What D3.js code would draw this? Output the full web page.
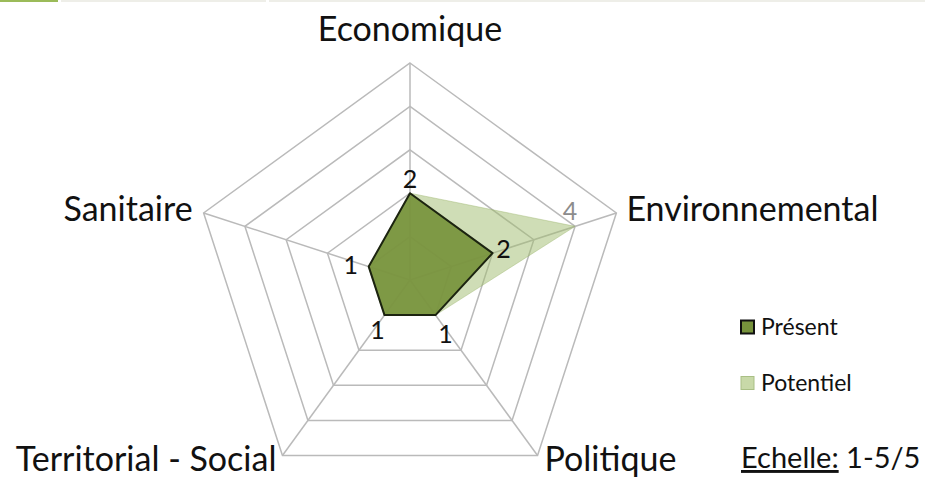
<!DOCTYPE html>
<html><head><meta charset="utf-8">
<script src="https://cdn.jsdelivr.net/npm/d3@7/dist/d3.min.js"></script>
<style>body{margin:0;background:#fff}svg{display:block}text{font-family:Lato,"Open Sans",sans-serif;fill:#111}</style>
</head><body><svg id="c" width="925" height="477"></svg>
<script>
const axes = ["Economique","Environnemental","Politique","Territorial - Social","Sanitaire"];
const present = [2,2,1,1,1];
const potentiel = [2,4,1,1,1];
const levels = [1,2,3,4,5];
const seriesNames = ["Présent","Potentiel"];
const scaleNote = ["Echelle:", " 1-5/5"];

const svg = d3.select("#c");
const cx = 410, cy = 280, R = 217;
const r = d3.scaleLinear().domain([0,5]).range([0,R]);
const ang = d3.scaleLinear().domain([0, axes.length]).range([0, 2*Math.PI]);
const pt = (i, v) => [cx + r(v)*Math.sin(ang(i)), cy - r(v)*Math.cos(ang(i))];

// top decorative bars
svg.append("rect").attr("x",0).attr("y",0).attr("width",58).attr("height",2).attr("fill","#9BBB59");
svg.append("rect").attr("x",61).attr("y",0).attr("width",205).attr("height",2).attr("fill","#EEEEE8");
svg.append("rect").attr("x",269).attr("y",0).attr("width",656).attr("height",2).attr("fill","#EEEEE8");

const g = svg.append("g").attr("transform",`translate(${cx},${cy})`);
const radial = d3.lineRadial().angle((d,i)=>ang(i)).radius(d=>r(d)).curve(d3.curveLinearClosed);

// grid
levels.forEach(l=>{
  g.append("path").attr("d", radial(axes.map(()=>l))).attr("fill","none").attr("stroke","#BABABA").attr("stroke-width",1.5);
});
axes.forEach((a,i)=>{
  const [x,y] = pt(i,5);
  g.append("line").attr("x1",0).attr("y1",0).attr("x2",x-cx).attr("y2",y-cy).attr("stroke","#BABABA").attr("stroke-width",1.5);
});

// series
g.append("path").attr("d", radial(potentiel)).attr("fill","rgb(160,188,110)").attr("fill-opacity",0.5)
  .attr("stroke","rgb(150,178,100)").attr("stroke-opacity",0.4).attr("stroke-width",1);
g.append("path").attr("d", radial(present)).attr("fill","#77933C").attr("fill-opacity",0.92)
  .attr("stroke","#1C2410").attr("stroke-width",2).attr("stroke-linejoin","round");

// value labels
const presOff = [[0,-5,"middle"],[11,5,"middle"],[10,28,"middle"],[-7,24,"middle"],[-18,7,"middle"]];
present.forEach((v,i)=>{
  const [x,y] = pt(i,v);
  svg.append("text").attr("x",x+presOff[i][0]).attr("y",y+presOff[i][1]).attr("text-anchor",presOff[i][2])
    .attr("font-size",25).text(v);
});
potentiel.forEach((v,i)=>{
  if (v === present[i]) return;
  const [x,y] = pt(i,v);
  svg.append("text").attr("x",x-5).attr("y",y-6).attr("text-anchor","middle")
    .attr("font-size",25).style("fill","#8C8C8C").text(v);
});

// axis labels
const labOff = [[0,-22,"middle"],[10,8,"start"],[7,15,"start"],[-6,15,"end"],[-11,8,"end"]];
axes.forEach((a,i)=>{
  const [x,y] = pt(i,5);
  svg.append("text").attr("x",x+labOff[i][0]).attr("y",y+labOff[i][1]).attr("text-anchor",labOff[i][2])
    .attr("font-size",34).text(a);
});

// legend
const legFill = [["#77933C","#111",2],["#C8D9A8","#A9BF85",1]];
seriesNames.forEach((s,i)=>{
  const y = 327 + i*56;
  svg.append("rect").attr("x",741).attr("y",y-6.5).attr("width",13).attr("height",13)
    .attr("fill",legFill[i][0]).attr("stroke",legFill[i][1]).attr("stroke-width",legFill[i][2]);
  svg.append("text").attr("x",761).attr("y",y+8).attr("font-size",23).text(s);
});
const t = svg.append("text").attr("x",741).attr("y",468).attr("font-size",29);
t.append("tspan").attr("text-decoration","underline").text(scaleNote[0]);
t.append("tspan").text(scaleNote[1]);
</script></body></html>
